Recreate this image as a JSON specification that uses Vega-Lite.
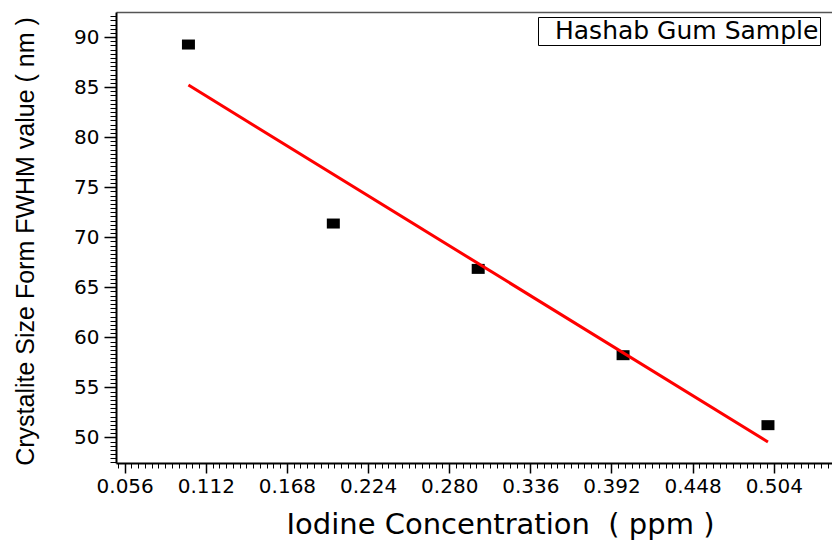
{
  "$schema": "https://vega.github.io/schema/vega-lite/v6.json",
  "width": 716,
  "height": 451,
  "autosize": {"type": "none"},
  "padding": {"left": 116, "top": 12, "right": 0, "bottom": 78},
  "background": "white",
  "config": {
    "view": {"stroke": null},
    "axis": {"grid": false, "domainColor": "black", "tickColor": "black", "labelColor": "black", "titleColor": "black", "labelFont": "DejaVu Sans", "titleFont": "DejaVu Sans", "titleFontWeight": "normal"}
  },
  "datasets": {
    "pts": [
      {"x": 0.1, "y": 89.25, "series": "Hashab Gum Sample"},
      {"x": 0.2, "y": 71.37, "series": "Hashab Gum Sample"},
      {"x": 0.3, "y": 66.84, "series": "Hashab Gum Sample"},
      {"x": 0.4, "y": 58.22, "series": "Hashab Gum Sample"},
      {"x": 0.5, "y": 51.23, "series": "Hashab Gum Sample"}
    ],
    "fit": [
      {"x": 0.1, "y": 85.2},
      {"x": 0.5, "y": 49.55}
    ]
  },
  "layer": [
    {
      "data": {"name": "pts"},
      "mark": {"type": "point", "filled": true, "shape": "M-1.3,-1H1.3V1H-1.3Z", "size": 100, "opacity": 1},
      "encoding": {
        "x": {"field": "x", "type": "quantitative", "scale": {"domain": [0.05, 0.5442], "nice": false, "zero": false},
          "axis": {"orient": "bottom", "values": [0.05133, 0.056, 0.06067, 0.06533, 0.07, 0.07467, 0.07933, 0.084, 0.08867, 0.09333, 0.098, 0.10267, 0.10733, 0.112, 0.11667, 0.12133, 0.126, 0.13067, 0.13533, 0.14, 0.14467, 0.14933, 0.154, 0.15867, 0.16333, 0.168, 0.17267, 0.17733, 0.182, 0.18667, 0.19133, 0.196, 0.20067, 0.20533, 0.21, 0.21467, 0.21933, 0.224, 0.22867, 0.23333, 0.238, 0.24267, 0.24733, 0.252, 0.25667, 0.26133, 0.266, 0.27067, 0.27533, 0.28, 0.28467, 0.28933, 0.294, 0.29867, 0.30333, 0.308, 0.31267, 0.31733, 0.322, 0.32667, 0.33133, 0.336, 0.34067, 0.34533, 0.35, 0.35467, 0.35933, 0.364, 0.36867, 0.37333, 0.378, 0.38267, 0.38733, 0.392, 0.39667, 0.40133, 0.406, 0.41067, 0.41533, 0.42, 0.42467, 0.42933, 0.434, 0.43867, 0.44333, 0.448, 0.45267, 0.45733, 0.462, 0.46667, 0.47133, 0.476, 0.48067, 0.48533, 0.49, 0.49467, 0.49933, 0.504, 0.50867, 0.51333, 0.518, 0.52267, 0.52733, 0.532, 0.53667, 0.54133],
            "labels": false, "domain": false, "tickSize": 5, "tickWidth": 1, "title": null}},
        "y": {"field": "y", "type": "quantitative", "scale": {"domain": [47.45, 92.5], "nice": false, "zero": false},
          "axis": {"orient": "left", "values": [47.5, 47.91667, 48.33333, 48.75, 49.16667, 49.58333, 50, 50.41667, 50.83333, 51.25, 51.66667, 52.08333, 52.5, 52.91667, 53.33333, 53.75, 54.16667, 54.58333, 55, 55.41667, 55.83333, 56.25, 56.66667, 57.08333, 57.5, 57.91667, 58.33333, 58.75, 59.16667, 59.58333, 60, 60.41667, 60.83333, 61.25, 61.66667, 62.08333, 62.5, 62.91667, 63.33333, 63.75, 64.16667, 64.58333, 65, 65.41667, 65.83333, 66.25, 66.66667, 67.08333, 67.5, 67.91667, 68.33333, 68.75, 69.16667, 69.58333, 70, 70.41667, 70.83333, 71.25, 71.66667, 72.08333, 72.5, 72.91667, 73.33333, 73.75, 74.16667, 74.58333, 75, 75.41667, 75.83333, 76.25, 76.66667, 77.08333, 77.5, 77.91667, 78.33333, 78.75, 79.16667, 79.58333, 80, 80.41667, 80.83333, 81.25, 81.66667, 82.08333, 82.5, 82.91667, 83.33333, 83.75, 84.16667, 84.58333, 85, 85.41667, 85.83333, 86.25, 86.66667, 87.08333, 87.5, 87.91667, 88.33333, 88.75, 89.16667, 89.58333, 90, 90.41667, 90.83333, 91.25, 91.66667, 92.08333],
            "labels": false, "domain": false, "tickSize": 6, "tickWidth": 1, "title": null}},
        "color": {"field": "series", "type": "nominal", "scale": {"range": ["black"]},
          "legend": {"orient": "none", "legendX": 422, "legendY": 5, "title": null, "labelFont": "DejaVu Sans", "labelFontSize": 25, "labelColor": "black", "labelLimit": 500, "symbolOpacity": 0, "symbolStrokeWidth": 0, "symbolSize": 1, "strokeColor": "black", "padding": 1, "labelOffset": -9}}
      }
    },
    {
      "data": {"name": "fit"},
      "mark": {"type": "line", "color": "#ff0000", "strokeWidth": 3},
      "encoding": {
        "x": {"field": "x", "type": "quantitative",
          "axis": {"orient": "bottom", "values": [0.056, 0.112, 0.168, 0.224, 0.28, 0.336, 0.392, 0.448, 0.504], "format": ".3f", "labelFontSize": 20, "labelPadding": 3, "tickSize": 10, "tickWidth": 1.5, "domainWidth": 2, "labelFlush": false, "labelOverlap": false,
            "title": "Iodine Concentration \u00a0( ppm )", "titleFontSize": 29, "titleX": 384, "titleY": 70, "titleBaseline": "alphabetic", "titleAlign": "center"}},
        "y": {"field": "y", "type": "quantitative",
          "axis": {"orient": "left", "values": [50, 55, 60, 65, 70, 75, 80, 85, 90], "labelFontSize": 20, "labelPadding": 5, "tickSize": 12, "tickWidth": 1.5, "domainWidth": 2, "labelOverlap": false,
            "title": "Crystalite Size Form FWHM value ( nm )", "titleFont": "Liberation Sans", "titleFontSize": 25, "titleX": -83, "titleY": 229, "titleAngle": -90, "titleBaseline": "alphabetic", "titleAlign": "center"}}
      }
    },
    {
      "data": {"name": "pts"},
      "mark": {"type": "point", "opacity": 0},
      "encoding": {
        "x": {"field": "x", "type": "quantitative", "axis": {"orient": "top", "labels": false, "ticks": false, "domain": true, "domainColor": "#555555", "domainWidth": 1.5, "title": null}},
        "y": {"field": "y", "type": "quantitative", "axis": null}
      }
    }
  ],
  "resolve": {"axis": {"x": "independent", "y": "independent"}}
}
